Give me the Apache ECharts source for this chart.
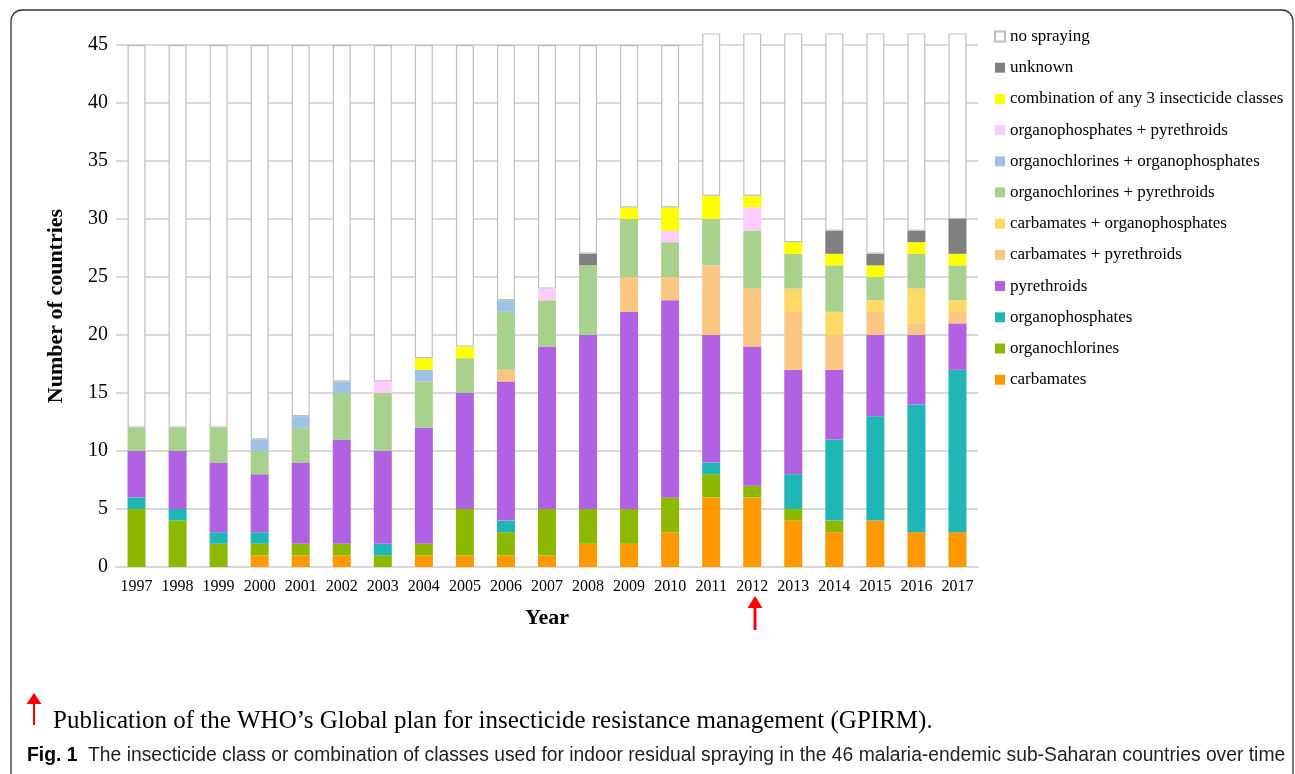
<!DOCTYPE html>
<html>
<head>
<meta charset="utf-8">
<script src="https://cdn.jsdelivr.net/npm/echarts@6/dist/echarts.min.js"></script>
<style>
html,body{margin:0;padding:0;background:#fff;}
#chart{width:1295px;height:774px;}
</style>
</head>
<body>
<div id="chart"></div>
<script>
const years = ['1997','1998','1999','2000','2001','2002','2003','2004','2005','2006','2007','2008','2009','2010','2011','2012','2013','2014','2015','2016','2017'];
const yTicks = [0,5,10,15,20,25,30,35,40,45];

const carbamates       = [0,0,0,1,1,1,0,1,1,1,1,2,2,3,6,6,4,3,4,3,3];
const organochlorines  = [5,4,2,1,1,1,1,1,4,2,4,3,3,3,2,1,1,1,0,0,0];
const organophosphates = [1,1,1,1,0,0,1,0,0,1,0,0,0,0,1,0,3,7,9,11,14];
const pyrethroids      = [4,5,6,5,7,9,8,10,10,12,14,15,17,17,11,12,9,6,7,6,4];
const carbPyr          = [0,0,0,0,0,0,0,0,0,1,0,0,3,2,6,5,5,3,2,1,1];
const carbOph          = [0,0,0,0,0,0,0,0,0,0,0,0,0,0,0,0,2,2,1,3,1];
const oclPyr           = [2,2,3,2,3,4,5,4,3,5,4,6,5,3,4,5,3,4,2,3,3];
const oclOph           = [0,0,0,1,1,1,0,1,0,1,0,0,0,0,0,0,0,0,0,0,0];
const ophPyr           = [0,0,0,0,0,0,1,0,0,0,1,0,0,1,0,2,0,0,0,0,0];
const comb3            = [0,0,0,0,0,0,0,1,1,0,0,0,1,2,2,1,1,1,1,1,1];
const unknown          = [0,0,0,0,0,0,0,0,0,0,0,1,0,0,0,0,0,2,1,1,3];
const noSpraying       = [33,33,33,34,32,29,29,27,26,22,21,18,14,14,14,14,18,17,19,17,16];

const seriesDefs = [
  ['carbamates', carbamates, '#FF9900'],
  ['organochlorines', organochlorines, '#8CB800'],
  ['organophosphates', organophosphates, '#21B6B6'],
  ['pyrethroids', pyrethroids, '#B062E3'],
  ['carbamates + pyrethroids', carbPyr, '#FBC682'],
  ['carbamates + organophosphates', carbOph, '#FFD966'],
  ['organochlorines + pyrethroids', oclPyr, '#A9D18E'],
  ['organochlorines + organophosphates', oclOph, '#9DC3E6'],
  ['organophosphates + pyrethroids', ophPyr, '#FFCCFF'],
  ['combination of any 3 insecticide classes', comb3, '#FFFF00'],
  ['unknown', unknown, '#808080'],
  ['no spraying', noSpraying, '#FFFFFF']
];

const serif = "'Liberation Serif','Times New Roman',serif";

const series = seriesDefs.map(([name, data, color]) => ({
  name: name,
  type: 'bar',
  stack: 'total',
  data: data,
  barWidth: 18,
  clip: false,
  itemStyle: name === 'no spraying'
    ? { color: '#FFFFFF', borderColor: '#BFBFBF', borderWidth: 1.2 }
    : { color: color },
  emphasis: { disabled: true }
}));

const chart = echarts.init(document.getElementById('chart'), null, { renderer: 'canvas' });
chart.setOption({
  animation: false,
  backgroundColor: '#ffffff',
  grid: { left: 116, right: 317, top: 45, bottom: 207, containLabel: false },
  legend: {
    orient: 'vertical',
    left: 994,
    top: 28,
    padding: 0,
    itemWidth: 10,
    itemHeight: 10,
    itemGap: 14.2,
    icon: 'rect',
    data: seriesDefs.map(d => d[0]).reverse(),
    textStyle: { fontFamily: serif, fontSize: 17, color: '#000', lineHeight: 16 },
    selectedMode: false
  },
  xAxis: {
    type: 'category',
    data: years,
    name: 'Year',
    nameLocation: 'middle',
    nameGap: 40,
    nameTextStyle: { fontFamily: serif, fontSize: 22, fontWeight: 'bold', color: '#000' },
    axisLine: { lineStyle: { color: '#D9D9D9', width: 2 } },
    axisTick: { show: false },
    axisLabel: { interval: 0, fontFamily: serif, fontSize: 16, color: '#000', margin: 12 }
  },
  yAxis: {
    type: 'value',
    min: 0,
    max: 45,
    interval: 5,
    name: 'Number of countries',
    nameLocation: 'middle',
    nameGap: 49,
    nameTextStyle: { fontFamily: serif, fontSize: 22, fontWeight: 'bold', color: '#000' },
    axisLine: { show: false },
    axisTick: { show: false },
    axisLabel: { fontFamily: serif, fontSize: 20, color: '#000', margin: 8 },
    splitLine: { lineStyle: { color: '#D9D9D9', width: 2 } }
  },
  series: series,
  graphic: [
    { type: 'rect', shape: { x: 11, y: 10, width: 1282, height: 820, r: 11 }, style: { fill: 'none', stroke: '#333', lineWidth: 1.3 }, silent: true },
    { type: 'line', shape: { x1: 755, y1: 630, x2: 755, y2: 606 }, style: { stroke: '#FF0000', lineWidth: 3 }, silent: true },
    { type: 'polygon', shape: { points: [[747.5, 608], [762.5, 608], [755, 596]] }, style: { fill: '#FF0000' }, silent: true },
    { type: 'line', shape: { x1: 34, y1: 725, x2: 34, y2: 701 }, style: { stroke: '#FF0000', lineWidth: 2 }, silent: true },
    { type: 'polygon', shape: { points: [[26.5, 704], [41.5, 704], [34, 693]] }, style: { fill: '#FF0000' }, silent: true },
    { type: 'text', left: 53, top: 709, style: { text: 'Publication of the WHO\u2019s Global plan for insecticide resistance management (GPIRM).', font: "25px 'Liberation Serif', serif", fill: '#000' }, silent: true },
    { type: 'text', left: 27, top: 746, style: { rich: { b: { fontFamily: "'Liberation Sans',sans-serif", fontSize: 19.3, fontWeight: 'bold', fill: '#000' }, r: { fontFamily: "'Liberation Sans',sans-serif", fontSize: 19.3, fill: '#222' } }, text: '{b|Fig. 1}{r|  The insecticide class or combination of classes used for indoor residual spraying in the 46 malaria-endemic sub-Saharan countries over time}' }, silent: true }
  ]
});
</script>
</body>
</html>
